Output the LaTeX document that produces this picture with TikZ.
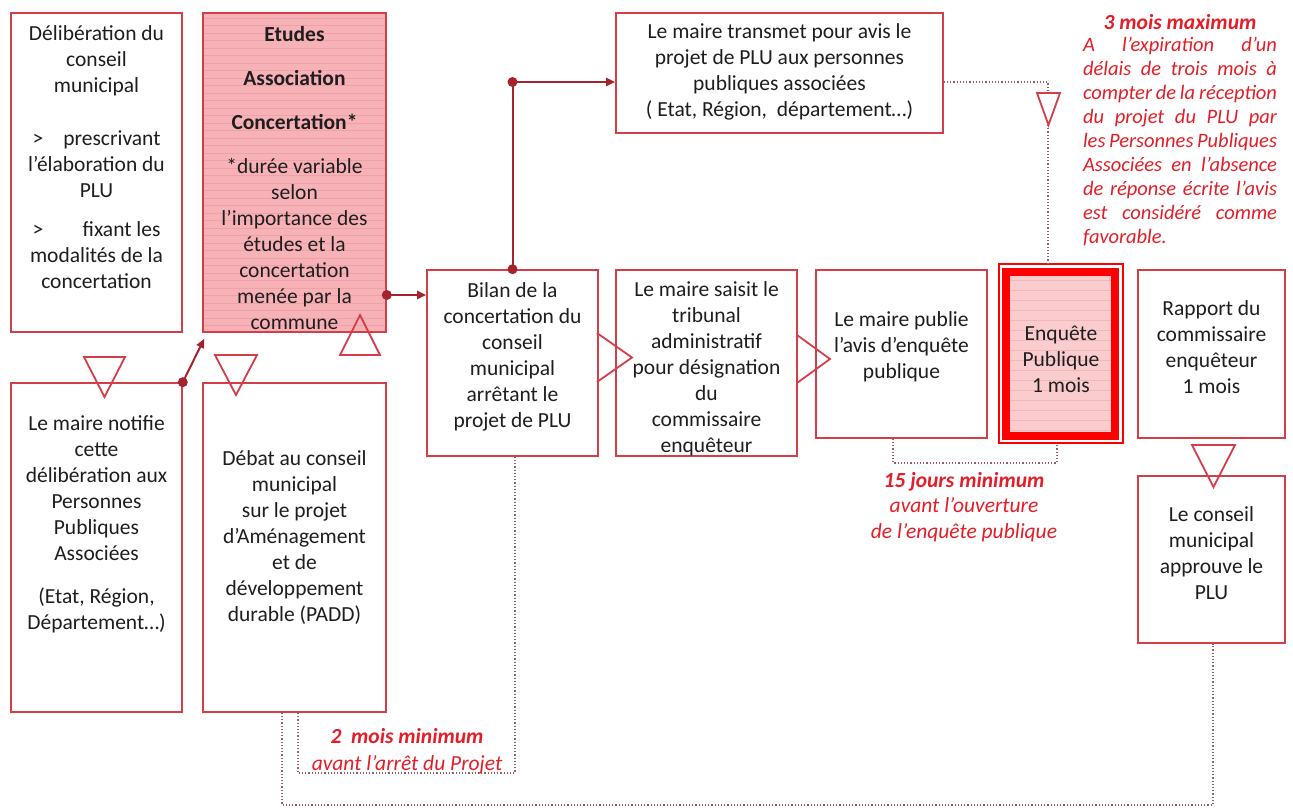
\documentclass[tikz,border=0pt]{standalone}
\usepackage{fontspec}
\setmainfont{Carlito}
\usetikzlibrary{arrows.meta,calc}
\definecolor{boxred}{RGB}{212,62,72}
\definecolor{connred}{RGB}{165,35,45}
\definecolor{dotc}{RGB}{150,95,105}
\definecolor{txt}{RGB}{30,30,30}
\definecolor{pinkA}{RGB}{247,178,183}
\definecolor{pinkB}{RGB}{250,204,206}
\definecolor{stripe}{RGB}{240,160,167}
\definecolor{redtxt}{RGB}{228,30,40}
\definecolor{brightred}{RGB}{255,0,0}
\begin{document}
\begin{tikzpicture}[x=1pt,y=-1pt,
 box/.style={draw=boxred,line width=1.6pt,inner sep=0pt},
 txtnode/.style={text=txt,align=center,inner sep=0pt,font=\fontsize{21.5}{26}\selectfont},
 conn/.style={draw=connred,line width=2pt,-{Triangle[length=9pt,width=8pt]}},
 dotline/.style={draw=dotc,line width=1.2pt,dotted},
 tri/.style={draw=boxred,line width=1.8pt,line join=miter},
 redt/.style={text=redtxt,inner sep=0pt,font=\fontsize{20.5}{24}\selectfont\itshape},
 redb/.style={text=redtxt,inner sep=0pt,align=center,font=\fontsize{21.5}{25.5}\selectfont\itshape},
]
\useasboundingbox[fill=white] (0,0) rectangle (1293,807);

% coordinates
\coordinate (yB) at (0,295);
\coordinate (yK) at (0,82);
\coordinate (hx) at (1048,0);
\coordinate (y15) at (0,463);
\coordinate (gx) at (893,0);
\coordinate (hx2) at (1057,0);
\coordinate (ex) at (515,0);
\coordinate (y2m) at (0,773);
\coordinate (dx2) at (298,0);
\coordinate (ybot) at (0,805);
\coordinate (dx1) at (282,0);
\coordinate (jx) at (1213,0);

% filled areas
\fill[pinkA] (203,13) rectangle (386,332);
\foreach \yy in {18,25.5,...,330} \draw[stripe,line width=0.4pt] (204,\yy) -- (385,\yy);
\fill[pinkB] (1006,272) rectangle (1115,436);
\foreach \yy in {280,290,...,430} \draw[stripe!50!pinkB,line width=0.4pt] (1008,\yy) -- (1113,\yy);

% boxes
\node[box,minimum width=171pt,minimum height=319pt] (A) at (96.5,172.5) {};
\node[box,minimum width=183pt,minimum height=319pt] (B) at (294.5,172.5) {};
\node[box,minimum width=171pt,minimum height=329pt] (C) at (96.5,547.5) {};
\node[box,minimum width=183pt,minimum height=329pt] (D) at (294.5,547.5) {};
\node[box,minimum width=171pt,minimum height=186pt] (E) at (512.5,363) {};
\node[box,minimum width=181pt,minimum height=186pt] (F) at (706.5,363) {};
\node[box,minimum width=171pt,minimum height=168pt] (G) at (901.5,354) {};
\node[draw=brightred,line width=1.5pt,inner sep=0pt,minimum width=124pt,minimum height=179pt] (H) at (1061,353.5) {};
\node[draw=brightred,line width=8pt,inner sep=0pt,minimum width=109pt,minimum height=164pt] (Hin) at (1060.5,354) {};
\node[box,minimum width=147pt,minimum height=168pt] (I) at (1211.5,354) {};
\node[box,minimum width=147pt,minimum height=167pt] (J) at (1211.5,559.5) {};
\node[box,minimum width=327pt,minimum height=120pt] (K) at (779.5,73) {};

% dotted connectors
\draw[dotline] (K.east |- yK) -- (hx |- yK) -- (hx |- H.north);
\draw[dotline] (gx |- G.south) -- (gx |- y15) -- (hx2 |- y15) -- (hx2 |- H.south);
\draw[dotline] (ex |- E.south) -- (ex |- y2m) -- (dx2 |- y2m) -- (dx2 |- D.south);
\draw[dotline] (dx1 |- D.south) -- (dx1 |- ybot) -- (jx |- ybot) -- (jx |- J.south);

% texts
\node[txtnode] (tA) at (96.5,157) {Délibération du\\conseil\\municipal\\[27pt]\makebox[128pt]{>\hfill prescrivant}\\l’élaboration du\\PLU\\[13pt]\makebox[128pt]{>\hfill fixant les}\\modalités de la\\concertation};
\node[txtnode] (tB) at (294.5,178) {\textbf{Etudes}\\[18pt]\textbf{Association}\\[18pt]\textbf{Concertation*}\\[18pt]*durée variable\\selon\\l’importance des\\études et la\\concertation\\menée par la\\commune};
\node[txtnode] (tC) at (96.5,524) {Le maire notifie\\cette\\délibération aux\\Personnes\\Publiques\\Associées\\[17pt](Etat, Région,\\Département…)};
\node[txtnode] (tD) at (294.5,538) {Débat au conseil\\municipal\\sur le projet\\d’Aménagement\\et de\\développement\\durable (PADD)};
\node[txtnode] (tE) at (512.5,357) {Bilan de la\\concertation du\\conseil\\municipal\\arrêtant le\\projet de PLU};
\node[txtnode] (tF) at (706.5,368.5) {Le maire saisit le\\tribunal\\administratif\\pour désignation\\du\\commissaire\\enquêteur};
\node[txtnode] (tG) at (901.5,347) {Le maire publie\\l’avis d’enquête\\publique};
\node[txtnode] (tH) at (1061,359) {Enquête\\Publique\\1 mois};
\node[txtnode] (tI) at (1211.5,347) {Rapport du\\commissaire\\enquêteur\\1 mois};
\node[txtnode] (tJ) at (1211.5,553) {Le conseil\\municipal\\approuve le\\PLU};
\node[txtnode] (tK) at (779.5,72) {Le maire transmet pour avis le\\projet de PLU aux personnes\\publiques associées\\( Etat, Région,~ département…)};

% red texts
\node[redt,font=\fontsize{21.5}{24}\selectfont\itshape\bfseries] (r1) at (1180,22) {3 mois maximum};
\node[redt,align=left] (r2) at (1180,142) {\makebox[194pt][s]{A l’expiration d’un}\\\makebox[194pt][s]{délais de trois mois à}\\\makebox[194pt][s]{compter de la réception}\\\makebox[194pt][s]{du projet du PLU par}\\\makebox[194pt][s]{les Personnes Publiques}\\\makebox[194pt][s]{Associées en l’absence}\\\makebox[194pt][s]{de réponse écrite l’avis}\\\makebox[194pt][s]{est considéré comme}\\\makebox[194pt][l]{favorable.}};
\node[redb] (r3) at (964,507) {\textbf{15 jours minimum}\\avant l’ouverture\\de l’enquête publique};
\node[redb] (r4) at (407,751.5) {\textbf{2~ mois minimum}\\[1.5pt]avant l’arrêt du Projet};

% solid connectors
\fill[connred] (B.east |- yB) circle (5pt);
\draw[conn] (B.east |- yB) -- (E.west |- yB);
\fill[connred] (C.north east) circle (5pt);
\draw[conn] (C.north east) -- ([shift={(2,6)}]B.south west);
\fill[connred] (E.north) circle (5pt);
\fill[connred] (E.north |- yK) circle (5pt);
\draw[conn] (E.north) -- (E.north |- yK) -- (K.west |- yK);

% triangles
\draw[tri] (84,357) -- (125,357) -- (104.5,397) -- cycle;
\draw[tri] (215,355) -- (257,355) -- (236,395) -- cycle;
\draw[tri] (340,355) -- (380,355) -- (360,315) -- cycle;
\draw[tri] (597,333) -- (632,357.5) -- (597,382);
\draw[tri] (797,335) -- (830,359) -- (797,383);
\draw[tri,fill=white] (1037,93) -- (1060,93) -- (1048.5,125) -- cycle;
\draw[tri] (1192,445) -- (1235,445) -- (1213.5,487) -- cycle;
\end{tikzpicture}
\end{document}
